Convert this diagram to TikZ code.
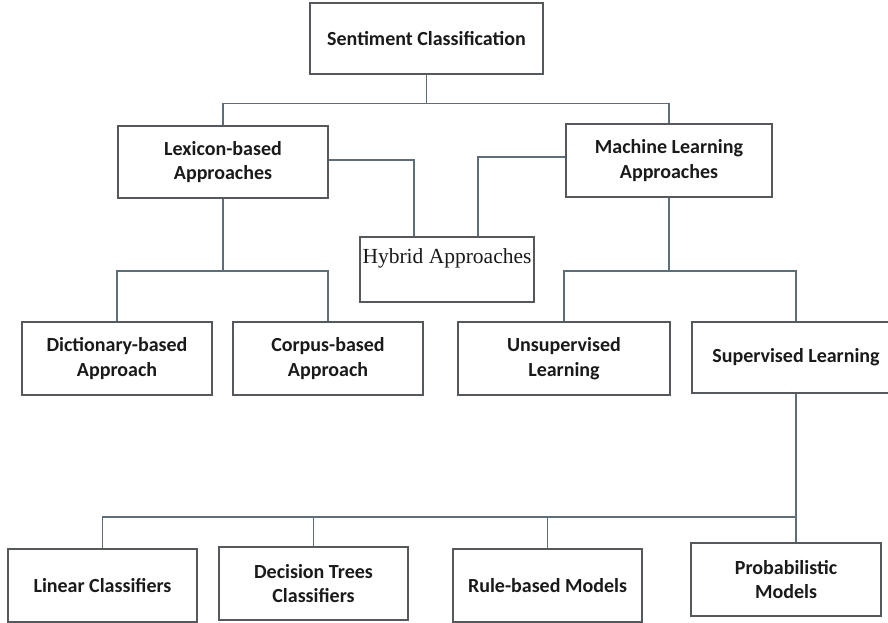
\documentclass[tikz,border=0pt]{standalone}
\usepackage{fontspec}
\setmainfont{Carlito}
\newfontfamily\hybfont{Liberation Serif}
\usepackage{xcolor}
\usepackage{tikz}
\usetikzlibrary{calc}
\definecolor{ink}{HTML}{1A1A1A}
\definecolor{edge}{HTML}{55595D}
\definecolor{wire}{HTML}{5E6E78}
\tikzset{
  box/.style={draw=edge, line width=1.5pt, rectangle, align=center, inner sep=0pt,
    text=ink, font=\bfseries\fontsize{20}{24.5}\selectfont, minimum height=73pt},
  wide/.style={box, minimum width=#1},
  link/.style={draw=wire, line width=1.5pt, line join=miter},
}

\begin{document}
\begin{tikzpicture}[x=1pt,y=-1pt]
  \useasboundingbox (0,0) rectangle (888,623);
  \fill[white] (0,0) rectangle (888,623);
  % top levels
  \node[wide=233pt, minimum height=71pt] (sent) at (426.5,38.5) {Sentiment Classification};
  \node[wide=210pt, minimum height=72pt] (lex) at (223,162) {Lexicon-based\\Approaches};
  \node[wide=206pt] (ml) at (669,160.5) {Machine Learning\\Approaches};
  \node[draw=edge, line width=1.5pt, text=ink, minimum width=174pt, inner xsep=0pt, inner ysep=10pt,
    text height=17pt, text depth=28pt, font=\hybfont\fontsize{21.5}{24}\selectfont,
    anchor=north] (hyb) at (447,236) {Hybrid Approaches};
  % second level
  \node[wide=190pt] (dict) at (117,358.5) {Dictionary-based\\Approach};
  \node[wide=190pt] (corp) at (328,358.5) {Corpus-based\\Approach};
  \node[wide=212pt] (unsup) at (564,358.5) {Unsupervised\\Learning};
  \node[wide=208pt, minimum height=71pt] (sup) at (796,357.5) {Supervised Learning};
  % classifiers
  \node[wide=189pt] (lin) at (102.5,585.5) {Linear Classifiers};
  \node[wide=189pt] (dec) at (313.5,583.5) {Decision Trees\\Classifiers};
  \node[wide=189pt] (rule) at (547.5,585.5) {Rule-based Models};
  \node[wide=190pt] (prob) at (786,579.5) {Probabilistic\\Models};

  \draw[link] (sent.south) -- ++(0,29) -| (lex.north);
  \draw[link] (sent.south) -- ++(0,29) -| (ml.north);
  \draw[link] ([yshift=2pt]lex.east) -| ([xshift=-33pt]hyb.north);
  \draw[link] ([yshift=3.5pt]ml.west) -| ([xshift=31pt]hyb.north);
  \draw[link] (lex.south) -- ++(0,72) -| (dict.north);
  \draw[link] (lex.south) -- ++(0,72) -| (corp.north);
  \draw[link] (ml.south) -- ++(0,73) -| (unsup.north);
  \draw[link] (ml.south) -- ++(0,73) -| (sup.north);
  \draw[link] (sup.south) -- (sup.south |- prob.north);
  \foreach \leaf in {lin,dec,rule}
    \draw[link] (sup.south) -- ++(0,123) -| (\leaf.north);
\end{tikzpicture}
\end{document}
